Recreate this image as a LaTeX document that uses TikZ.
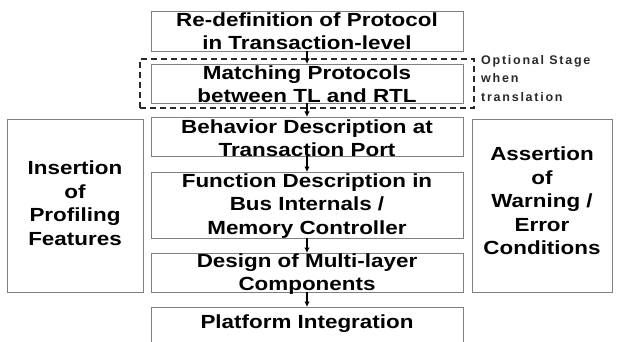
\documentclass[tikz,border=0pt]{standalone}
\usepackage{fontspec}
\setmainfont{Liberation Sans}[FakeStretch=1.18]
\newfontfamily\optfont{Liberation Sans}[LetterSpace=14]
\usetikzlibrary{arrows.meta}
\definecolor{boxgray}{HTML}{808080}
\definecolor{darktxt}{HTML}{2A2A2A}
\begin{document}
\begin{tikzpicture}[x=1pt,y=-1pt,
  box/.style={draw=boxgray, line width=0.9pt, minimum width=312pt, inner sep=0pt, outer sep=0pt},
  sidebox/.style={draw=boxgray, line width=0.9pt, inner sep=0pt, outer sep=0pt},
  lbl/.style={font=\fontsize{19}{23.5}\selectfont\bfseries, align=center, inner sep=0pt},
  arr/.style={-{Latex[length=5.5pt,width=5.5pt]}, line width=1.1pt, black},
  dashbox/.style={draw=darktxt, line width=1.3pt, dash pattern=on 6pt off 4pt, inner sep=0pt}]
\useasboundingbox[fill=white] (0,0) rectangle (618,342);
% optional stage frame
\node[dashbox, minimum width=334pt, minimum height=49pt] (opt) at (307,83.5) {};
% center boxes
\node[box, minimum height=40pt] (b1) at (307,31) {};
\node[box, minimum height=39pt] (b2) at (307,83.5) {};
\node[box, minimum height=39pt] (b3) at (307,136.5) {};
\node[box, minimum height=66pt] (b4) at (307,205) {};
\node[box, minimum height=39pt] (b5) at (307,272.5) {};
\coordinate (b6nw) at (151,307);
\coordinate (b6ne) at (463,307);
\coordinate (b6sw) at (151,342);
\coordinate (b6se) at (463,342);
\coordinate (b6) at (307,307);
\draw[draw=boxgray, line width=0.9pt] (b6sw) -- (b6nw) -- (b6ne) -- (b6se);
% side boxes
\node[sidebox, minimum width=136pt, minimum height=173pt] (L) at (75,205.5) {};
\node[sidebox, minimum width=140pt, minimum height=173pt] (R) at (542,205.5) {};
% labels
\node[lbl] (t1) at (307,31) {Re-definition of Protocol\\in Transaction-level};
\node[lbl] (t2) at (307,84) {Matching Protocols\\between TL and RTL};
\node[lbl] (t3) at (307,138) {Behavior Description at\\Transaction Port};
\node[lbl] (t4) at (307,206) {Function Description in\\Bus Internals /\\Memory Controller};
\node[lbl] (t5) at (307,274) {Design of Multi-layer\\Components};
\node[lbl] (t6) at (307,324) {Platform Integration};
\node[lbl] (tl) at (75,203) {Insertion\\of\\Profiling\\Features};
\node[lbl] (tr) at (542,201) {Assertion\\of\\Warning /\\Error\\Conditions};
\node[font=\optfont\fontsize{12.5}{18.5}\selectfont\bfseries, text=darktxt, align=left, anchor=north west, inner sep=0pt] (ot) at (481,55) {Optional Stage\\when\\translation};
% arrows
\draw[arr] (b1.south) -- (b2.north);
\draw[arr] (b2.south) -- (b3.north);
\draw[arr] (b3.south) -- (b4.north);
\draw[arr] (b4.south) -- (b5.north);
\draw[arr] (b5.south) -- (b6);
\end{tikzpicture}
\end{document}
